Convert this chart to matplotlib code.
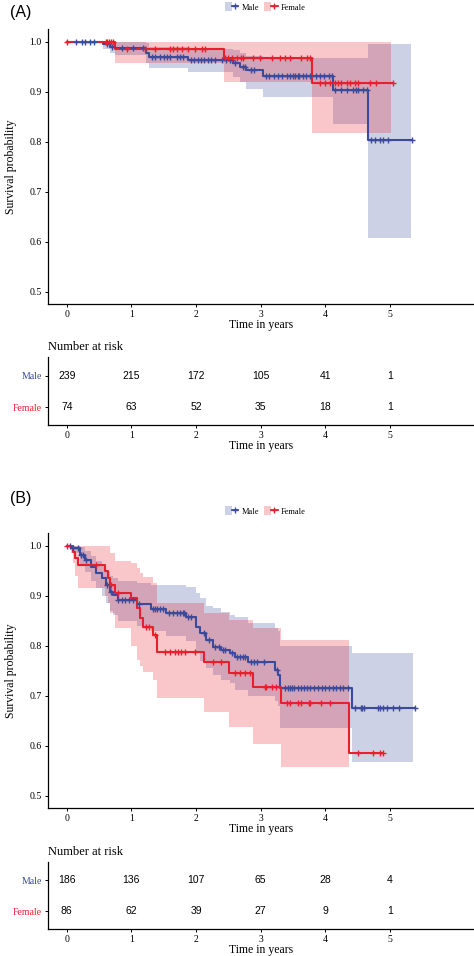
import numpy as np
import matplotlib
matplotlib.use("Agg")
import matplotlib.pyplot as plt
from matplotlib.lines import Line2D
from matplotlib.patches import Patch
from matplotlib.legend_handler import HandlerTuple

groups = ["Male", "Female"]
risk_times = [0, 1, 2, 3, 4, 5]
y_ticks = [0.5, 0.6, 0.7, 0.8, 0.9, 1.0]

# ---------------- Panel A ----------------
a_male_t = [0, 0.56, 0.67, 0.74, 1.23, 1.28, 1.88, 2.57, 2.68, 2.78, 3.04, 4.12, 4.66]
a_male_s = [1.0, 0.995, 0.99, 0.987, 0.977, 0.969, 0.963, 0.957, 0.950, 0.943, 0.932, 0.903, 0.803]
a_male_lo = [1.0, 0.985, 0.978, 0.973, 0.957, 0.948, 0.940, 0.930, 0.920, 0.905, 0.890, 0.835, 0.607]
a_male_hi = [1.0, 1.0, 1.0, 1.0, 0.997, 0.99, 0.986, 0.984, 0.978, 0.972, 0.968, 0.968, 0.996]
a_male_end = 5.34
a_male_band_end = 5.33
a_male_cens = [0.15, 0.23, 0.29, 0.36, 0.42, 0.62, 0.70, 0.85, 1.02, 1.18, 1.32, 1.37, 1.45,
               1.50, 1.55, 1.60, 1.70, 1.75, 1.80, 1.92, 1.97, 2.03, 2.08, 2.13, 2.18, 2.23,
               2.30, 2.40, 2.46, 2.52, 2.55, 2.60, 2.72, 2.75, 2.85, 2.90, 3.08, 3.13, 3.20,
               3.27, 3.33, 3.40, 3.45, 3.50, 3.53, 3.57, 3.60, 3.65, 3.70, 3.76, 3.85, 3.92,
               3.98, 4.05, 4.10, 4.15, 4.25, 4.33, 4.43, 4.48, 4.51, 4.59, 4.64, 4.70, 4.77,
               4.85, 4.90, 4.97, 5.34]

a_female_t = [0, 0.74, 2.43, 3.79]
a_female_s = [1.0, 0.986, 0.967, 0.918]
a_female_lo = [1.0, 0.957, 0.919, 0.817]
a_female_hi = [1.0, 1.0, 1.0, 1.0]
a_female_end = 5.05
a_female_band_end = 5.02
a_female_cens = [0.0, 0.60, 0.63, 0.66, 0.69, 0.72, 0.93, 1.21, 1.36, 1.59, 1.64, 1.70, 1.78,
                 1.87, 1.98, 2.09, 2.14, 2.45, 2.50, 2.55, 2.63, 2.70, 2.73, 2.88, 2.99, 3.17,
                 3.30, 3.37, 3.45, 3.63, 3.71, 3.76, 3.92, 4.00, 4.07, 4.15, 4.20, 4.25, 4.33,
                 4.38, 4.46, 4.51, 4.69, 4.79, 5.05]

a_risk_male = [239, 215, 172, 105, 41, 1]
a_risk_female = [74, 63, 52, 35, 18, 1]

# ---------------- Panel B ----------------
b_male_t = [0, 0.07, 0.2, 0.28, 0.38, 0.46, 0.54, 0.61, 0.67, 0.72, 0.79, 1.08, 1.31, 1.54,
            1.85, 2.0, 2.06, 2.16, 2.26, 2.39, 2.52, 2.6, 2.81, 3.22, 3.27, 3.30, 4.41]
b_male_s = [1.0, 0.995, 0.981, 0.971, 0.958, 0.945, 0.935, 0.921, 0.908, 0.901, 0.891, 0.883,
            0.873, 0.866, 0.858, 0.838, 0.825, 0.811, 0.798, 0.791, 0.785, 0.778, 0.768, 0.751,
            0.741, 0.716, 0.676]
b_male_lo = [1.0, 0.985, 0.96, 0.948, 0.93, 0.915, 0.90, 0.885, 0.87, 0.862, 0.85, 0.84, 0.83,
             0.82, 0.81, 0.785, 0.77, 0.755, 0.741, 0.731, 0.725, 0.711, 0.70, 0.69, 0.68,
             0.635, 0.568]
b_male_hi = [1.0, 1.0, 0.998, 0.99, 0.98, 0.97, 0.962, 0.95, 0.94, 0.935, 0.93, 0.925, 0.921,
             0.921, 0.918, 0.905, 0.895, 0.88, 0.875, 0.868, 0.862, 0.858, 0.845, 0.835, 0.83,
             0.80, 0.785]
b_male_end = 5.39
b_male_band_end = 5.36
b_male_cens = [0.05, 0.10, 0.17, 0.22, 0.25, 0.30, 0.62, 0.68, 0.80, 0.85, 0.90, 0.97, 1.02,
               1.12, 1.33, 1.37, 1.40, 1.45, 1.49, 1.58, 1.65, 1.70, 1.75, 1.80, 1.82, 1.88,
               1.92, 2.12, 2.20, 2.30, 2.35, 2.42, 2.45, 2.55, 2.63, 2.68, 2.72, 2.76, 2.85,
               2.90, 2.95, 3.05, 3.26, 3.37, 3.42, 3.45, 3.48, 3.52, 3.57, 3.62, 3.67, 3.72,
               3.77, 3.83, 3.88, 3.95, 4.00, 4.06, 4.12, 4.17, 4.22, 4.28, 4.35, 4.46, 4.55,
               4.57, 4.60, 4.81, 4.84, 4.89, 4.96, 5.04, 5.14, 5.39]

b_female_t = [0, 0.1, 0.12, 0.17, 0.59, 0.64, 0.67, 0.74, 1.0, 1.08, 1.13, 1.18, 1.34, 1.40,
              2.12, 2.51, 2.88, 3.31, 4.37]
b_female_s = [1.0, 0.988, 0.975, 0.961, 0.95, 0.935, 0.921, 0.905, 0.895, 0.875, 0.855, 0.838,
              0.821, 0.787, 0.768, 0.746, 0.718, 0.685, 0.586]
b_female_lo = [1.0, 0.965, 0.94, 0.915, 0.90, 0.885, 0.865, 0.835, 0.80, 0.771, 0.76, 0.748,
               0.731, 0.695, 0.668, 0.638, 0.604, 0.557, 0.557]
b_female_hi = [1.0, 1.0, 1.0, 1.0, 1.0, 1.0, 0.985, 0.97, 0.965, 0.955, 0.945, 0.938, 0.925,
               0.885, 0.865, 0.851, 0.835, 0.811, 0.811]
b_female_end = 4.89
b_female_band_end = 4.37
b_female_cens = [0.0, 0.46, 0.69, 0.80, 1.23, 1.28, 1.36, 1.52, 1.59, 1.67, 1.72, 1.77, 1.83,
                 1.98, 2.26, 2.39, 2.60, 2.68, 2.76, 2.83, 3.07, 3.09, 3.17, 3.24, 3.40, 3.45,
                 3.58, 3.63, 3.74, 3.76, 3.94, 4.07, 4.51, 4.74, 4.85, 4.89]

b_risk_male = [186, 136, 107, 65, 28, 4]
b_risk_female = [86, 62, 39, 27, 9, 1]

# ---------------- styling ----------------
BLUE = "#3B4A9B"
RED = "#E8202E"
SERIF = "Liberation Serif"
SANS = "Liberation Sans"
XLIM = (-0.29, 6.3)
YLIM = (0.475, 1.026)

fig = plt.figure(figsize=(4.74, 9.56), dpi=100)


def km(ax, t, s, lo, hi, cens, end, band_end, color):
    t = np.asarray(t, float)
    s = np.asarray(s, float)
    lo = np.asarray(lo, float)
    hi = np.asarray(hi, float)
    m = t < band_end
    tb = np.append(t[m], band_end)
    lob = np.append(lo[m], lo[m][-1])
    hib = np.append(hi[m], hi[m][-1])
    ax.fill_between(tb, lob, hib, step="post", color=color, alpha=0.25, lw=0)
    tc = np.append(t, end)
    sc = np.append(s, s[-1])
    ax.step(tc, sc, where="post", color=color, lw=1.5, zorder=3)
    cens = np.asarray(cens, float)
    idx = np.searchsorted(t, cens, side="right") - 1
    ax.plot(cens, s[idx], "+", color=color, ms=5, mew=1.0, zorder=4, ls="none")


def style_axis(ax):
    for sp in ["top", "right"]:
        ax.spines[sp].set_visible(False)
    for sp in ["left", "bottom"]:
        ax.spines[sp].set_linewidth(0.9)
    ax.tick_params(length=2.5, width=0.7, labelsize=7, pad=2)
    for lab in ax.get_xticklabels() + ax.get_yticklabels():
        lab.set_family(SERIF)


def main_panel(rect, male, female):
    ax = fig.add_axes(rect)
    km(ax, *male, BLUE)
    km(ax, *female, RED)
    ax.set_xlim(*XLIM)
    ax.set_ylim(*YLIM)
    ax.set_xticks(risk_times)
    ax.set_yticks(y_ticks)
    ax.set_yticklabels([f"{v:.1f}" for v in y_ticks])
    style_axis(ax)
    ax.set_xlabel("Time in years", family=SERIF, fontsize=8.5, labelpad=0)
    ax.set_ylabel("Survival probability", family=SERIF, fontsize=8.5, labelpad=9)
    return ax


def risk_panel(rect, rmale, rfemale):
    ax = fig.add_axes(rect)
    for x, n in zip(risk_times, rmale):
        ax.text(x, 2, str(n), ha="center", va="center", family=SANS, fontsize=7.5)
    for x, n in zip(risk_times, rfemale):
        ax.text(x, 1, str(n), ha="center", va="center", family=SANS, fontsize=7.5)
    ax.set_xlim(*XLIM)
    ax.set_ylim(0.425, 2.6)
    ax.set_xticks(risk_times)
    ax.set_yticks([2, 1])
    ax.set_yticklabels(groups)
    style_axis(ax)
    ax.get_yticklabels()[0].set_color(BLUE)
    ax.get_yticklabels()[1].set_color(RED)
    ax.set_xlabel("Time in years", family=SERIF, fontsize=8.5, labelpad=0)
    ax.set_title("Number at risk", loc="left", family=SERIF, fontsize=9, pad=5)
    return ax


def legend(y):
    handles = [
        (Patch(facecolor=BLUE, alpha=0.25, lw=0),
         Line2D([], [], color=BLUE, lw=1.3, marker="+", ms=5, mew=1)),
        (Patch(facecolor=RED, alpha=0.25, lw=0),
         Line2D([], [], color=RED, lw=1.3, marker="+", ms=5, mew=1)),
    ]
    fig.legend(handles, groups, loc="center", bbox_to_anchor=(0.56, y), ncol=2,
               frameon=False, prop={"family": SERIF, "size": 6},
               handler_map={tuple: HandlerTuple(ndivide=None, pad=0)},
               handlelength=1.6, handleheight=1.2, columnspacing=0.6, handletextpad=0.4)


# Panel A
main_panel([48 / 474, 1 - 304 / 956, 1 - 48 / 474, (304 - 29) / 956],
           (a_male_t, a_male_s, a_male_lo, a_male_hi, a_male_cens, a_male_end, a_male_band_end),
           (a_female_t, a_female_s, a_female_lo, a_female_hi, a_female_cens, a_female_end,
            a_female_band_end))
risk_panel([48 / 474, 1 - 425 / 956, 1 - 48 / 474, (425 - 357) / 956], a_risk_male, a_risk_female)
legend(1 - 7 / 956)
fig.text(10 / 474, 1 - 13 / 956, "(A)", family=SANS, fontsize=11.5, va="center", ha="left")

# Panel B
main_panel([48 / 474, 1 - 808 / 956, 1 - 48 / 474, (808 - 533) / 956],
           (b_male_t, b_male_s, b_male_lo, b_male_hi, b_male_cens, b_male_end, b_male_band_end),
           (b_female_t, b_female_s, b_female_lo, b_female_hi, b_female_cens, b_female_end,
            b_female_band_end))
risk_panel([48 / 474, 1 - 929 / 956, 1 - 48 / 474, (929 - 862) / 956], b_risk_male, b_risk_female)
legend(1 - 511 / 956)
fig.text(10 / 474, 1 - 498 / 956, "(B)", family=SANS, fontsize=11.5, va="center", ha="left")

fig.savefig("out.png", dpi=100)
